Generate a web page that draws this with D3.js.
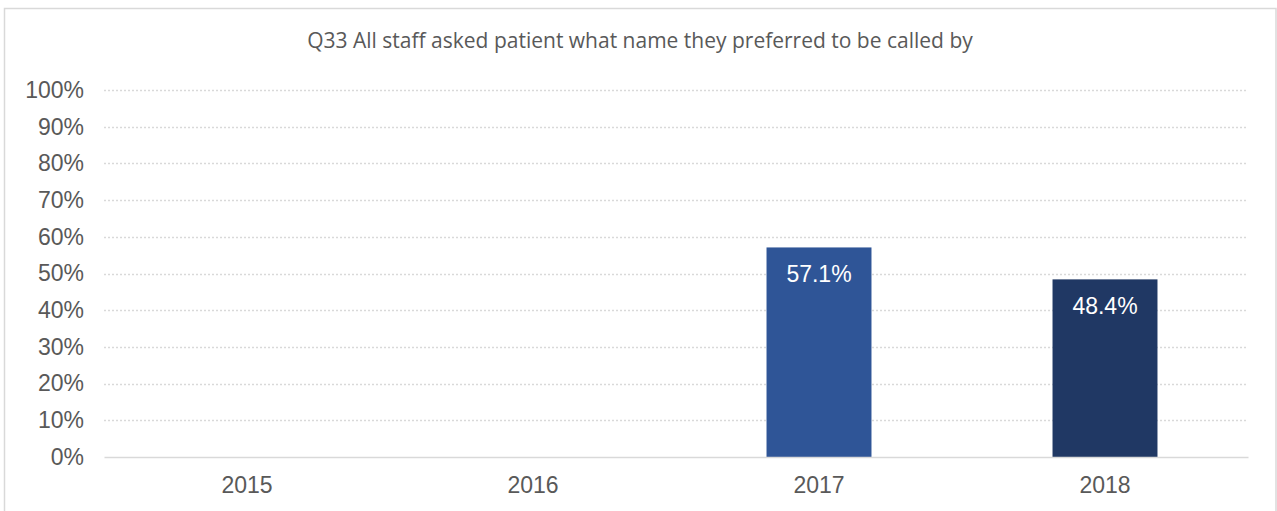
<!DOCTYPE html>
<html>
<head>
<meta charset="utf-8">
<script src="https://cdn.jsdelivr.net/npm/d3@7"></script>
<style>
  html, body { margin: 0; padding: 0; background: #fff; }
  svg { display: block; }
</style>
</head>
<body>
<svg id="chart" width="1277" height="511"></svg>
<script>
const title = "Q33 All staff asked patient what name they preferred to be called by";
const years = ["2015", "2016", "2017", "2018"];
const values = [null, null, 57.1, 48.4];
const yTicks = [0, 10, 20, 30, 40, 50, 60, 70, 80, 90, 100];
const barColors = ["#2F5597", "#2F5597", "#2F5597", "#203864"];

const W = 1277, H = 511;
const margin = { left: 104, right: 29, top: 90, bottom: 54 };
const svg = d3.select("#chart");

svg.append("rect")
  .attr("x", 4.5).attr("y", 8.5)
  .attr("width", W - 5.5).attr("height", H)
  .attr("fill", "#fff")
  .attr("stroke", "#D9D9D9").attr("stroke-width", 1.5);

const x = d3.scaleBand()
  .domain(years)
  .range([margin.left, W - margin.right])
  .paddingInner(0.633)
  .paddingOuter(0.3165);

const y = d3.scaleLinear()
  .domain([0, 100])
  .range([H - margin.bottom, margin.top]);

// gridlines
svg.append("g")
  .selectAll("line")
  .data(yTicks.filter(t => t > 0))
  .join("line")
  .attr("x1", margin.left).attr("x2", W - margin.right)
  .attr("y1", d => Math.round(y(d)) + 0.5).attr("y2", d => Math.round(y(d)) + 0.5)
  .attr("stroke", "#D9D9D9").attr("stroke-width", 1.5)
  .attr("stroke-dasharray", "2,2");

// y axis labels
const yAxis = d3.axisLeft(y).tickValues(yTicks).tickFormat(d => d + "%").tickSize(0).tickPadding(20);
const yg = svg.append("g").attr("transform", `translate(${margin.left},0)`).call(yAxis);
yg.select(".domain").remove();
yg.selectAll("text")
  .attr("font-family", "Liberation Sans, Arial, sans-serif")
  .attr("font-size", 23)
  .attr("fill", "#595959");

// bars
const data = years.map((yr, i) => ({ yr, v: values[i], c: barColors[i] })).filter(d => d.v != null);
svg.append("g")
  .selectAll("rect")
  .data(data)
  .join("rect")
  .attr("x", d => x(d.yr))
  .attr("y", d => y(d.v))
  .attr("width", x.bandwidth())
  .attr("height", d => y(0) - y(d.v))
  .attr("fill", d => d.c);

// bar labels
svg.append("g")
  .selectAll("text")
  .data(data)
  .join("text")
  .attr("x", d => x(d.yr) + x.bandwidth() / 2)
  .attr("y", d => y(d.v) + 35)
  .attr("text-anchor", "middle")
  .attr("font-family", "Liberation Sans, Arial, sans-serif")
  .attr("font-size", 23)
  .attr("fill", "#fff")
  .text(d => d.v.toFixed(1) + "%");

// x axis
const xAxis = d3.axisBottom(x).tickSize(0).tickPadding(20);
const xg = svg.append("g").attr("transform", `translate(0,${y(0)})`).call(xAxis);
xg.select(".domain").attr("stroke", "#D9D9D9").attr("stroke-width", 1.5);
xg.selectAll("text")
  .attr("font-family", "Liberation Sans, Arial, sans-serif")
  .attr("font-size", 23)
  .attr("fill", "#595959");

// title
svg.append("text")
  .attr("x", 640).attr("y", 48)
  .attr("text-anchor", "middle")
  .attr("font-family", "Open Sans, sans-serif")
  .attr("font-size", 21)
  .attr("fill", "#595959")
  .text(title);
</script>
</body>
</html>
